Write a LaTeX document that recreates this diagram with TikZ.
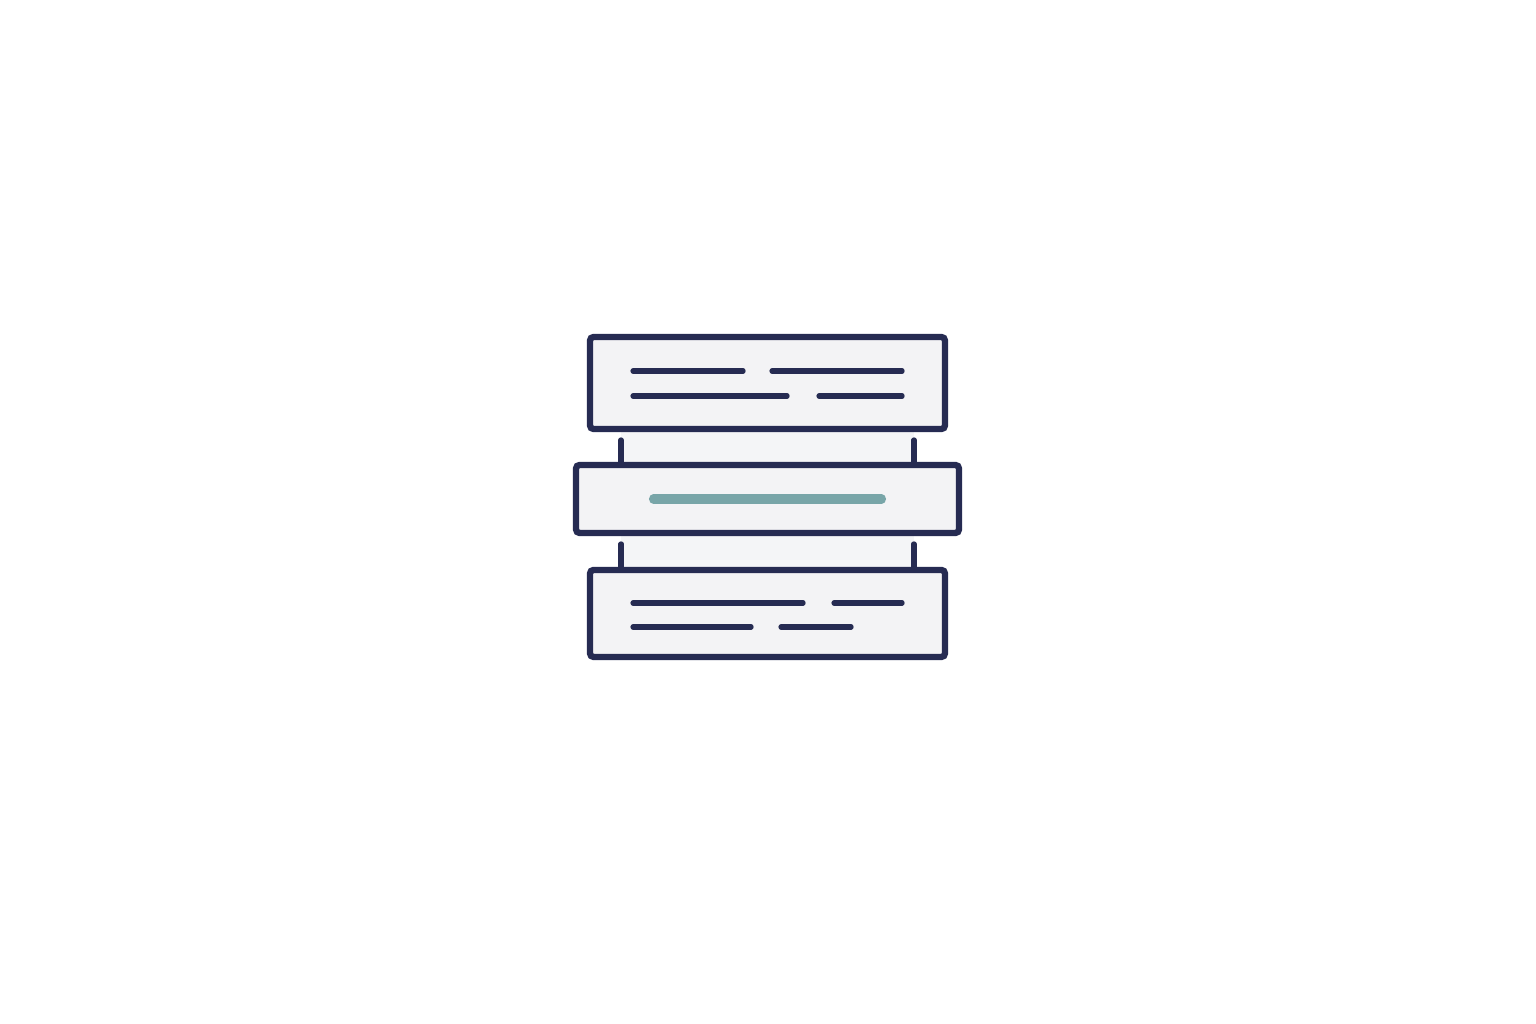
\documentclass[tikz,border=0pt]{standalone}
\usepackage{tikz}
\usepackage{xcolor}
\usetikzlibrary{positioning, calc, backgrounds}
\definecolor{inknavy}{RGB}{38, 43, 82}
\definecolor{panelgray}{RGB}{243, 243, 245}
\definecolor{gapgray}{RGB}{244, 245, 247}
\definecolor{accentteal}{RGB}{120, 165, 168}
\tikzstyle{panel} = [rectangle, rounded corners=2pt, inner sep=0pt, outer sep=0pt, draw=inknavy, line width=3.6pt, fill=panelgray]
\tikzstyle{textline} = [inknavy, line width=3pt, line cap=round]
\tikzstyle{highlight} = [accentteal, line width=5.2pt, line cap=round]
\tikzstyle{post} = [inknavy, line width=3pt, line cap=round]

\begin{document}
\begin{tikzpicture}[x=0.02cm, y=-0.02cm]
\useasboundingbox (0,0) rectangle (1536,1024);

% Stacked panels
\node (top) [panel, minimum width=7.1cm, minimum height=1.84cm] at (767.5,383) {};
\node (mid) [panel, minimum width=7.66cm, minimum height=1.36cm, below=0.72cm of top] {};
\node (bot) [panel, minimum width=7.1cm, minimum height=1.74cm, below=0.74cm of mid] {};

% Posts between the panels
\coordinate (pl) at ($(top.south west)+(31,0)$);
\coordinate (pr) at ($(top.south east)+(-31,0)$);
\coordinate (ql) at (pl |- bot.north);
\coordinate (qr) at (pr |- bot.north);

\begin{scope}[on background layer]
\fill [white] (0,0) rectangle (1536,1024);
\fill [gapgray] (pl) rectangle (pr |- mid.north);
\fill [gapgray] (pl |- mid.south) rectangle (qr);
\end{scope}

\draw [post] ($(pl)+(0,11)$) -- (pl |- mid.north);
\draw [post] ($(pr)+(0,11)$) -- (pr |- mid.north);
\draw [post] ($(pl |- mid.south)+(0,11)$) -- (ql);
\draw [post] ($(pr |- mid.south)+(0,11)$) -- (qr);

% Text lines, top panel
\draw [textline] ($(top.north west)+(43,34)$) -- +(110,0);
\draw [textline] ($(top.north west)+(182,34)$) -- +(130,0);
\draw [textline] ($(top.north west)+(43,59)$) -- +(154,0);
\draw [textline] ($(top.north west)+(229,59)$) -- +(83,0);

% Highlighted line, middle panel
\draw [highlight] ($(mid.center)+(-114,0)$) -- ($(mid.center)+(114,0)$);

% Text lines, bottom panel
\draw [textline] ($(bot.north west)+(43,33)$) -- +(170,0);
\draw [textline] ($(bot.north west)+(244,33)$) -- +(68,0);
\draw [textline] ($(bot.north west)+(43,57)$) -- +(118,0);
\draw [textline] ($(bot.north west)+(191,57)$) -- +(70,0);

\end{tikzpicture}
\end{document}
